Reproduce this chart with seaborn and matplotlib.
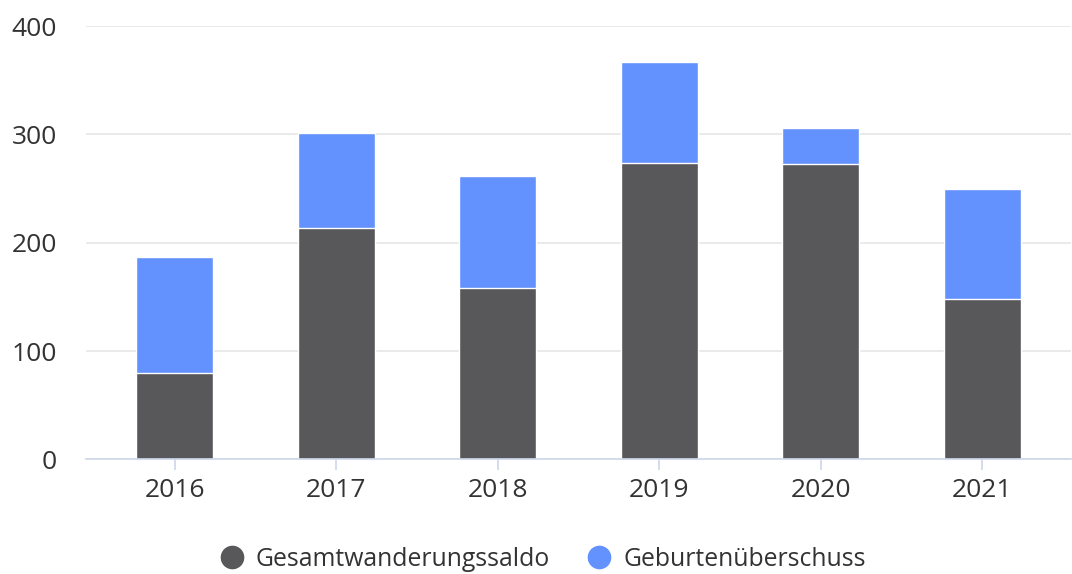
import numpy as np
import pandas as pd
import seaborn as sns
import matplotlib.pyplot as plt
from matplotlib.lines import Line2D

# 데이터
years = ['2016', '2017', '2018', '2019', '2020', '2021']
wanderung = [80, 214, 158, 274, 273, 148]      # Gesamtwanderungssaldo
geburten = [107, 87, 104, 93, 33, 102]         # Geburtenüberschuss

df = pd.DataFrame({'Jahr': years, 'Wanderung': wanderung, 'Geburten': geburten})
df['Gesamt'] = df['Wanderung'] + df['Geburten']

sns.set_style('white')
plt.rcParams['font.family'] = ['Open Sans', 'DejaVu Sans']

dark = '#58585a'
blue = '#6391fe'
axis_col = '#ccd6eb'
fs = 19

fig = plt.figure(figsize=(10.72, 5.74), dpi=100)
ax = fig.add_axes([0.0802, 0.1995, 0.9188, 0.7552])

# 누적 막대: 전체(파랑) 위에 이동(회색)
sns.barplot(data=df, x='Jahr', y='Gesamt', color=blue, saturation=1, width=0.477,
            edgecolor='white', linewidth=1, ax=ax)
sns.barplot(data=df, x='Jahr', y='Wanderung', color=dark, saturation=1, width=0.477,
            edgecolor='white', linewidth=1, ax=ax)

ax.set_xlim(-0.55, 5.55)
ax.set_ylim(0, 400)
ax.set_yticks([0, 100, 200, 300, 400])
ax.set_xlabel('')
ax.set_ylabel('')
ax.yaxis.grid(True, color='#e6e6e6', linewidth=1.2)
ax.set_axisbelow(True)
for s in ['top', 'right', 'left']:
    ax.spines[s].set_visible(False)
ax.spines['bottom'].set_color(axis_col)
ax.spines['bottom'].set_linewidth(1.2)
ax.tick_params(axis='x', bottom=True, colors=axis_col, length=8, width=1.2,
               labelcolor='#333333', labelsize=fs, pad=5)
ax.tick_params(axis='y', left=False, length=0, labelcolor='#333333', labelsize=fs, pad=21)

handles = [Line2D([0], [0], marker='o', linestyle='', markersize=16, color=dark),
           Line2D([0], [0], marker='o', linestyle='', markersize=16, color=blue)]
fig.legend(handles, ['Gesamtwanderungssaldo', 'Geburtenüberschuss'], loc='center',
           bbox_to_anchor=(0.506, 0.026), ncol=2, frameon=False, fontsize=17.8,
           handlelength=1, handletextpad=0.47, columnspacing=1.5, labelcolor='#333333')

fig.savefig('out.png', dpi=100)
